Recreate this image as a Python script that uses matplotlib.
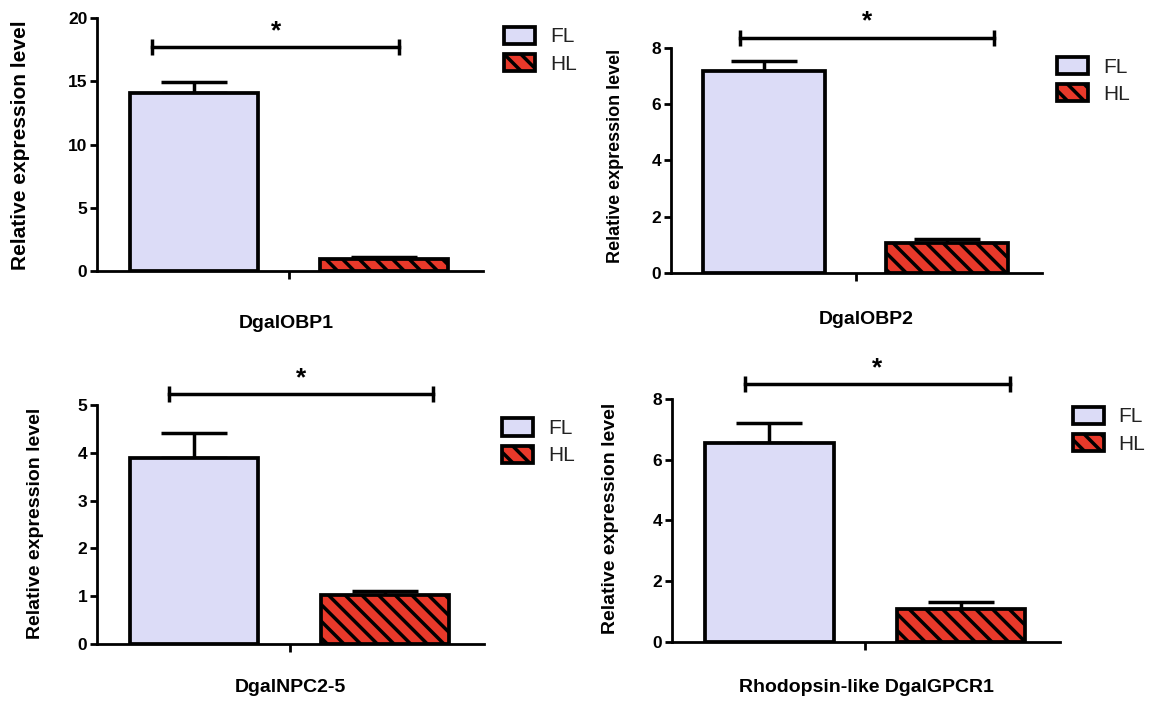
import matplotlib.pyplot as plt

plt.rcParams['font.family'] = ['Liberation Sans', 'DejaVu Sans']
plt.rcParams['hatch.linewidth'] = 2.5

# Data
genes = ['DgalOBP1', 'DgalOBP2', 'DgalNPC2-5', 'Rhodopsin-like DgalGPCR1']
groups = ['FL', 'HL']
fl_mean = [14.1, 7.2, 3.9, 6.55]
fl_sem = [0.85, 0.35, 0.52, 0.65]
hl_mean = [1.0, 1.05, 1.02, 1.08]
hl_sem = [0.15, 0.15, 0.08, 0.22]
y_max = [20, 8, 5, 8]
y_step = [5, 2, 1, 2]
bracket_y = [17.7, 8.36, 5.23, 8.49]
bracket_x = [(-0.22, 1.08), (-0.13, 1.26), (-0.13, 1.25), (-0.13, 1.26)]

fl_color = '#dcdcf7'
hl_color = '#e8392a'

# axes rectangles (figure fraction), label spots and legend anchors
rects = [
    [0.0842, 0.613, 0.335, 0.361],
    [0.5825, 0.6106, 0.322, 0.3209],
    [0.0842, 0.0813, 0.336, 0.3409],
    [0.5833, 0.0842, 0.337, 0.3466],
]
ylabel_size = [15, 13, 14, 14]
ylabel_xy = [(-0.174, 0.5), (-0.127, 0.52), (-0.137, 0.506), (-0.137, 0.51)]
xlabel_xy = [(0.49, -0.205), (0.526, -0.209), (0.5, -0.184), (0.5, -0.189)]
legend_pos = [(0.4375, 0.962), (0.9175, 0.919), (0.4358, 0.403), (0.931, 0.420)]

fig = plt.figure(figsize=(11.52, 7.01), dpi=100)

for i in range(4):
    ax = fig.add_axes(rects[i])
    b1 = ax.bar(0, fl_mean[i], width=0.67, color=fl_color, edgecolor='black',
                linewidth=2.7, label=groups[0], zorder=2)
    b2 = ax.bar(1, hl_mean[i], width=0.67, color=hl_color, edgecolor='black',
                linewidth=2.7, hatch='\\\\', label=groups[1], zorder=2)
    ax.errorbar([0, 1], [fl_mean[i], hl_mean[i]],
                yerr=[[0, 0], [fl_sem[i], hl_sem[i]]],
                fmt='none', ecolor='black', elinewidth=2.5, capsize=24,
                capthick=2.5, zorder=1)

    ax.set_xlim(-0.51, 1.52)
    ax.set_ylim(0, y_max[i])
    ax.set_yticks(range(0, y_max[i] + 1, y_step[i]))
    ax.set_xticks([0.5])
    ax.set_xticklabels([''])
    ax.spines['top'].set_visible(False)
    ax.spines['right'].set_visible(False)
    ax.spines['left'].set_linewidth(2)
    ax.spines['bottom'].set_linewidth(2)
    ax.tick_params(axis='y', width=2, length=5, labelsize=12.5, pad=2)
    ax.tick_params(axis='x', width=2, length=6)
    for lab in ax.get_yticklabels():
        lab.set_fontweight('bold')

    ax.set_ylabel('Relative expression level', fontsize=ylabel_size[i],
                  fontweight='bold')
    ax.yaxis.set_label_coords(*ylabel_xy[i])
    ax.set_xlabel(genes[i], fontsize=14, fontweight='bold', va='center')
    ax.xaxis.set_label_coords(*xlabel_xy[i])

    # significance bracket
    x0, x1 = bracket_x[i]
    ax.plot([x0, x1], [bracket_y[i], bracket_y[i]], color='black', lw=2.5,
            clip_on=False)
    ax.plot([x0, x1], [bracket_y[i], bracket_y[i]], ls='none', marker='|',
            markersize=12, mew=2.5, color='black', clip_on=False)
    ax.annotate('*', xy=((x0 + x1) / 2, bracket_y[i]), xytext=(0, 3),
                textcoords='offset points', ha='center', va='bottom',
                fontsize=19, fontweight='bold', annotation_clip=False)

    leg = ax.legend(handles=[b1, b2], loc='upper left',
                    bbox_to_anchor=legend_pos[i], bbox_transform=fig.transFigure,
                    frameon=False, fontsize=15, handlelength=1.5,
                    handleheight=0.9, labelspacing=0.35, handletextpad=0.7,
                    borderpad=0, borderaxespad=0)
    for t in leg.get_texts():
        t.set_color('#222222')

fig.savefig('out.png', dpi=100)
